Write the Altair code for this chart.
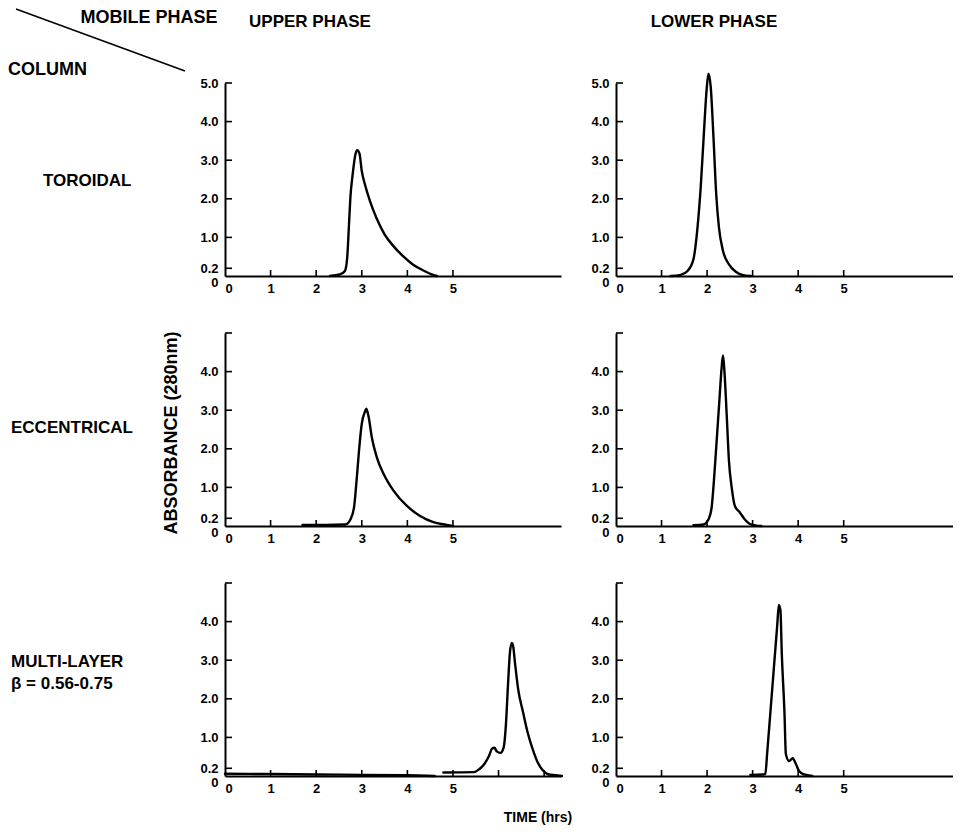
import altair as alt
import pandas as pd

# ---------------- data ----------------
TOR_UP_T = [2.3, 2.52, 2.63, 2.68, 2.72, 2.75, 2.8, 2.86, 2.9, 2.95, 3.0, 3.07, 3.18, 3.32, 3.5, 3.69, 3.9, 4.12, 4.34, 4.56, 4.65]
TOR_UP_A = [0.0, 0.04, 0.13, 0.47, 1.34, 2.03, 2.63, 3.15, 3.26, 3.17, 2.72, 2.37, 1.94, 1.51, 1.08, 0.78, 0.52, 0.30, 0.15, 0.03, 0.0]

TOR_LO_T = [1.2, 1.42, 1.57, 1.7, 1.79, 1.86, 1.93, 1.99, 2.03, 2.08, 2.14, 2.2, 2.26, 2.35, 2.48, 2.63, 2.77, 2.96]
TOR_LO_A = [0.0, 0.03, 0.13, 0.43, 1.26, 2.3, 3.7, 4.83, 5.24, 4.9, 3.6, 2.13, 1.26, 0.65, 0.30, 0.11, 0.03, 0.0]

ECC_UP_T = [1.7, 2.2, 2.64, 2.75, 2.83, 2.88, 2.94, 3.0, 3.07, 3.1, 3.15, 3.22, 3.33, 3.48, 3.7, 3.99, 4.28, 4.57, 4.86, 5.0]
ECC_UP_A = [0.03, 0.03, 0.04, 0.17, 0.48, 1.09, 1.96, 2.65, 2.96, 3.04, 2.83, 2.3, 1.78, 1.35, 0.91, 0.52, 0.26, 0.10, 0.03, 0.0]

ECC_LO_T = [1.7, 1.92, 2.03, 2.1, 2.15, 2.21, 2.27, 2.32, 2.35, 2.38, 2.43, 2.48, 2.54, 2.61, 2.72, 2.83, 2.93, 3.08, 3.19]
ECC_LO_A = [0.02, 0.04, 0.17, 0.48, 1.17, 2.2, 3.25, 4.11, 4.42, 4.03, 2.9, 1.69, 1.0, 0.52, 0.35, 0.17, 0.06, 0.01, 0.0]

MUL_UP_BASE_T = [0.0, 1.0, 2.0, 3.0, 4.0, 4.6]
MUL_UP_BASE_A = [0.06, 0.05, 0.04, 0.03, 0.02, 0.0]
MUL_UP_T = [4.79, 5.46, 5.57, 5.68, 5.79, 5.86, 5.91, 5.96, 6.04, 6.11, 6.16, 6.21, 6.25, 6.29, 6.32, 6.36, 6.43, 6.54, 6.64, 6.75, 6.86, 6.96, 7.1, 7.25, 7.39]
MUL_UP_A = [0.09, 0.10, 0.17, 0.30, 0.52, 0.71, 0.73, 0.64, 0.60, 0.73, 1.30, 2.42, 3.2, 3.45, 3.37, 2.94, 2.25, 1.64, 1.12, 0.69, 0.35, 0.16, 0.04, 0.02, 0.0]

MUL_LO_T = [2.95, 3.22, 3.28, 3.32, 3.4, 3.48, 3.54, 3.575, 3.61, 3.64, 3.7, 3.73, 3.8, 3.88, 3.95, 4.02, 4.13, 4.31]
MUL_LO_A = [0.03, 0.04, 0.06, 0.6, 1.8, 3.0, 3.9, 4.43, 4.3, 3.2, 1.62, 0.57, 0.39, 0.46, 0.31, 0.13, 0.04, 0.0]

X_LABELS = [0, 1, 2, 3, 4, 5]
X_TICKS = [1, 2, 3, 4, 5]
X_TICKS_LONG = [1, 2, 3, 4, 5, 6, 7]
Y_LABELS = [0, 0.2, 1, 2, 3, 4, 5]
Y_TICKS = [0.2, 1, 2, 3, 4, 5]

HEADER_LABELS = ["MOBILE PHASE", "UPPER PHASE", "LOWER PHASE", "COLUMN"]
ROW_LABELS = ["TOROIDAL", "ECCENTRICAL", "MULTI-LAYER", "\u03b2 = 0.56-0.75"]
Y_TITLE = "ABSORBANCE (280nm)"
X_TITLE = "TIME (hrs)"

# ---------------- styling ----------------
FONT = "Liberation Sans"
PX_PER_HR = 45.6
H = 193
LEFT_XMAX = 7.37
RIGHT_XMAX = 7.4


def panel(segments, xmax, show5, xticks, extras=()):
    w = round(xmax * PX_PER_HR)
    rows = []
    for k, (t, a) in enumerate(segments):
        for ti, ai in zip(t, a):
            rows.append({"t": ti, "a": ai, "seg": k})
    df = pd.DataFrame(rows)

    xs = alt.Scale(domain=[0, xmax], nice=False, zero=False)
    ys = alt.Scale(domain=[0, 5], nice=False)
    common = dict(grid=False, ticks=False, tickSize=0, domainColor="black", domainWidth=2,
                  labelFont=FONT, labelFontSize=13, labelFontWeight="bold", labelColor="black",
                  labelOverlap=False, labelFlush=False, title=None)
    xaxis = alt.Axis(values=X_LABELS, labelPadding=6, format="d",
                     labelAlign={"condition": {"test": "datum.value === 0", "value": "left"}, "value": "center"},
                     **common)
    hide5 = "" if show5 else "datum.value === 5 ? '' : "
    yaxis = alt.Axis(values=Y_LABELS, labelPadding=7,
                     labelExpr="datum.value === 0 ? '0' : " + hide5 + "format(datum.value, '.1f')",
                     labelBaseline={"condition": {"test": "datum.value === 0", "value": "top"}, "value": "middle"},
                     **common)
    X = alt.X("t:Q", scale=xs, axis=xaxis)
    Y = alt.Y("a:Q", scale=ys, axis=yaxis)

    line = alt.Chart(df).mark_line(color="black", strokeWidth=2.4, interpolate="monotone",
                                   strokeCap="round", strokeJoin="round").encode(x=X, y=Y, detail="seg:N")
    xt = alt.Chart(pd.DataFrame({"t": xticks})).mark_rule(color="black", strokeWidth=1.6).encode(
        x=X, y=alt.value(H), y2=alt.value(H - 6))
    yt = alt.Chart(pd.DataFrame({"a": Y_TICKS})).mark_rule(color="black", strokeWidth=1.6).encode(
        y=Y, x=alt.value(0), x2=alt.value(7))
    return alt.layer(line, xt, yt, *extras).properties(width=w, height=H)


def label(txt, x, y, size, align="left", angle=0, style="normal"):
    return alt.Chart(pd.DataFrame({"label": [txt]})).mark_text(
        align=align, baseline="middle", fontSize=size, font=FONT, fontWeight="bold",
        fontStyle=style, angle=angle, color="black").encode(
        text="label:N", x=alt.value(x), y=alt.value(y))


diag = alt.Chart(pd.DataFrame({"k": [0]})).mark_rule(color="black", strokeWidth=1.6).encode(
    x=alt.value(-209), y=alt.value(-74), x2=alt.value(-40), y2=alt.value(-12))

extras = [
    diag,
    label(HEADER_LABELS[0], -76, -65, 18, align="center"),
    label(HEADER_LABELS[1], 85, -61, 17, align="center"),
    label(HEADER_LABELS[2], 489, -61, 17, align="center"),
    label(HEADER_LABELS[3], -217, -13, 18),
    label(ROW_LABELS[0], -182, 98, 17),
    label(ROW_LABELS[1], -214, 345, 17),
    label(ROW_LABELS[2], -214, 579, 17),
    label(ROW_LABELS[3], -214, 601, 17),
    label(Y_TITLE, -53, 350, 18, align="center", angle=270),
    label(X_TITLE, 313, 735, 14, align="center"),
]

p1 = panel([(TOR_UP_T, TOR_UP_A)], LEFT_XMAX, True, X_TICKS, extras)
p2 = panel([(TOR_LO_T, TOR_LO_A)], RIGHT_XMAX, True, X_TICKS)
p3 = panel([(ECC_UP_T, ECC_UP_A)], LEFT_XMAX, False, X_TICKS)
p4 = panel([(ECC_LO_T, ECC_LO_A)], RIGHT_XMAX, False, X_TICKS)
p5 = panel([(MUL_UP_BASE_T, MUL_UP_BASE_A), (MUL_UP_T, MUL_UP_A)], LEFT_XMAX, False, X_TICKS_LONG)
p6 = panel([(MUL_LO_T, MUL_LO_A)], RIGHT_XMAX, False, X_TICKS)

chart = alt.concat(p1, p2, p3, p4, p5, p6, columns=2,
                   spacing={"row": 57, "column": 55}, bounds="flush").properties(
    padding=0, background="white").configure_view(stroke=None)

chart.save("out.html", embed_options={"renderer": "svg", "actions": False})
